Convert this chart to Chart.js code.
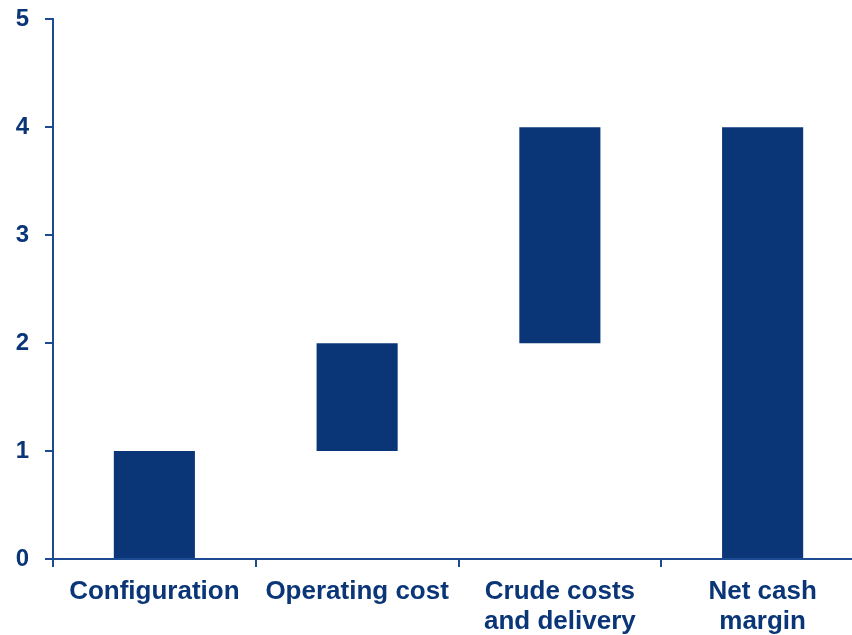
<!DOCTYPE html>
<html lang="en">
<head>
    <meta charset="UTF-8">
    <title>Net cash margin build-up</title>
    <script src="https://cdn.jsdelivr.net/npm/chart.js"></script>
    <style>
        html, body {
            margin: 0;
            padding: 0;
            background: #ffffff;
            overflow: hidden;
        }

        /* plot runs a little past the right edge and starts close to the top */
        .chart-box {
            width: 864px;
            height: 646px;
            margin-top: -11px;
        }
    </style>
</head>
<body>
    <div class="chart-box">
        <canvas id="marginChart"></canvas>
    </div>

    <script>
        const categories = ['Configuration', 'Operating cost', ['Crude costs', 'and delivery'], ['Net cash', 'margin']];
        const barBottoms = [0, 1, 2, 0];
        const barTops = [1, 2, 4, 4];
        const yTicks = [0, 1, 2, 3, 4, 5];

        const navy = '#0a3678';
        const axisBlue = '#1d4b91';

        const ctx = document.getElementById('marginChart').getContext('2d');

        new Chart(ctx, {
            type: 'bar',
            data: {
                labels: categories,
                datasets: [{
                    data: barBottoms.map((b, i) => [b, barTops[i]]),
                    backgroundColor: navy,
                    borderWidth: 0,
                    categoryPercentage: 1,
                    barPercentage: 0.4
                }]
            },
            options: {
                responsive: true,
                maintainAspectRatio: false,
                animation: false,
                layout: { padding: { top: 4, left: 0, right: 0, bottom: 0 } },
                plugins: {
                    legend: { display: false },
                    tooltip: { enabled: false }
                },
                scales: {
                    x: {
                        grid: {
                            drawOnChartArea: false,
                            drawTicks: true,
                            tickLength: 8,
                            color: axisBlue,
                            lineWidth: 2
                        },
                        border: { display: true, color: axisBlue, width: 2 },
                        ticks: {
                            color: navy,
                            padding: 10,
                            maxRotation: 0,
                            autoSkip: false,
                            font: { family: 'Arial, "Liberation Sans"', size: 26, weight: 'bold', lineHeight: 1.15 }
                        },
                        afterFit: (scale) => { scale.height = 76; }
                    },
                    y: {
                        min: 0,
                        max: 5,
                        afterBuildTicks: (scale) => {
                            scale.ticks = yTicks.map(v => ({ value: v }));
                        },
                        grid: {
                            drawOnChartArea: false,
                            drawTicks: true,
                            tickLength: 8,
                            color: axisBlue,
                            lineWidth: 2
                        },
                        border: { display: true, color: axisBlue, width: 2 },
                        ticks: {
                            color: navy,
                            padding: 16,
                            font: { family: 'Arial, "Liberation Sans"', size: 24, weight: 'bold' }
                        },
                        afterFit: (scale) => { scale.width = 53; }
                    }
                }
            }
        });
    </script>
</body>
</html>
